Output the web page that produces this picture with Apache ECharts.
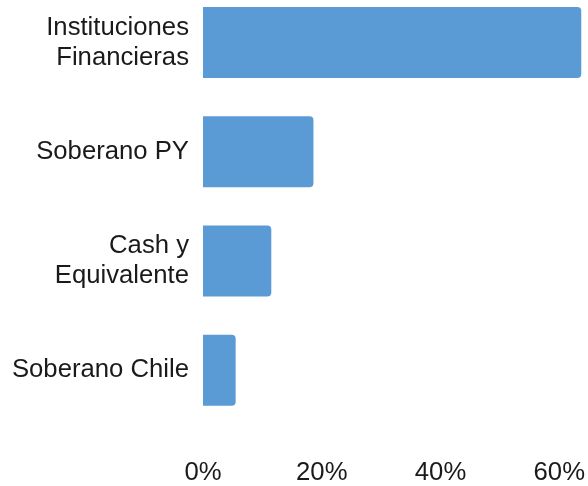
<!DOCTYPE html>
<html>
<head>
<meta charset="utf-8">
<script src="https://cdn.jsdelivr.net/npm/echarts@6/dist/echarts.min.js"></script>
<style>html,body{margin:0;padding:0;background:#fff;overflow:hidden;}#c{position:absolute;left:0;top:-20px;width:588px;height:506px;}</style>
</head>
<body>
<div id="c"></div>
<script>
var categories = ['Instituciones\nFinancieras', 'Soberano PY', 'Cash y\nEquivalente', 'Soberano Chile'];
var values = [63.7, 18.6, 11.5, 5.5];
var tickLabels = ['0%', '20%', '40%', '60%'];

var chart = echarts.init(document.getElementById('c'), null, {renderer: 'canvas'});
chart.setOption({
  animation: false,
  grid: {left: 203, right: 3, top: 7.8, height: 437.3, containLabel: false},
  xAxis: {
    type: 'value', min: 0, max: 64, interval: 20,
    splitLine: {show: false}, axisLine: {show: false}, axisTick: {show: false},
    axisLabel: {
      margin: 35, color: '#1a1a1a', fontSize: 25.7, fontFamily: 'Liberation Sans, Arial, sans-serif',
      formatter: function (v) { var i = Math.round(v / 20); return (v % 20 === 0 && tickLabels[i]) ? tickLabels[i] : ''; }
    }
  },
  yAxis: {
    type: 'category', data: categories, inverse: true,
    axisLine: {show: false}, axisTick: {show: false}, splitLine: {show: false},
    axisLabel: {margin: 14, color: '#1a1a1a', fontSize: 25.7, lineHeight: 30, fontFamily: 'Liberation Sans, Arial, sans-serif', align: 'right'}
  },
  series: [{
    type: 'bar', data: values, barWidth: 71,
    itemStyle: {color: '#5B9BD5', borderRadius: [0, 4, 4, 0]}
  }]
});
</script>
</body>
</html>
